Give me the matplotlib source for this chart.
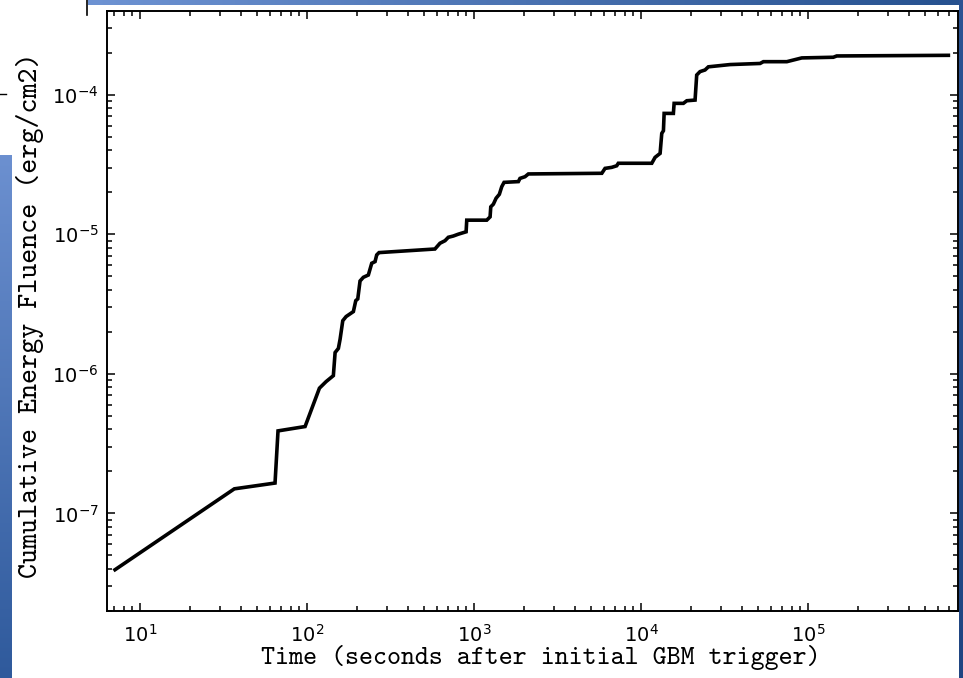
"""Cumulative energy fluence vs time since the initial GBM trigger."""
import matplotlib
matplotlib.use("Agg")
import matplotlib.pyplot as plt
import numpy as np
from matplotlib.lines import Line2D

# Time after trigger (s) and cumulative fluence (erg/cm2) at each step of the curve
TIME_S = [
    7.08, 36.7, 64.3, 67.0, 97.3, 118.6, 130.0, 143.7, 147.2, 154.0,
    157.7, 163.6, 171.3, 189.4, 195.7, 201.2, 207.6, 217.3, 232.8, 243.9,
    255.3, 261.2, 269.7, 583.0, 625.0, 670.0, 701.0, 751.0, 805.0, 896.0,
    904.0, 1191.0, 1247.0, 1259.0, 1305.0, 1355.0, 1417.0, 1465.0, 1512.0, 1842.0,
    1884.0, 2019.0, 2114.0, 5820.0, 6085.0, 6670.0, 7147.0, 7305.0, 11590.0, 12130.0,
    13000.0, 13300.0, 13610.0, 13740.0, 15610.0, 15770.0, 17920.0, 18780.0, 21050.0, 21530.0,
    22540.0, 24150.0, 25290.0, 34120.0, 51600.0, 54000.0, 74600.0, 91700.0, 141600.0, 148400.0,
    691800.0,
]
FLUENCE = [
    3.95e-8, 1.50e-7, 1.65e-7, 3.90e-7, 4.19e-7, 7.89e-7, 8.79e-7, 9.70e-7, 1.42e-6, 1.52e-6,
    1.77e-6, 2.40e-6, 2.57e-6, 2.79e-6, 3.34e-6, 3.44e-6, 4.62e-6, 4.91e-6, 5.10e-6, 6.19e-6,
    6.36e-6, 7.10e-6, 7.38e-6, 7.83e-6, 8.61e-6, 8.98e-6, 9.50e-6, 9.70e-6, 1.00e-5, 1.04e-5,
    1.26e-5, 1.26e-5, 1.33e-5, 1.57e-5, 1.64e-5, 1.81e-5, 1.93e-5, 2.19e-5, 2.35e-5, 2.38e-5,
    2.51e-5, 2.58e-5, 2.70e-5, 2.73e-5, 2.96e-5, 3.01e-5, 3.09e-5, 3.22e-5, 3.22e-5, 3.55e-5,
    3.79e-5, 5.27e-5, 5.51e-5, 7.33e-5, 7.33e-5, 8.65e-5, 8.65e-5, 9.03e-5, 9.13e-5, 1.38e-4,
    1.46e-4, 1.50e-4, 1.58e-4, 1.64e-4, 1.67e-4, 1.72e-4, 1.72e-4, 1.83e-4, 1.85e-4, 1.89e-4,
    1.91e-4,
]

XLIM = (6.34, 7.9e5)
YLIM = (2.0e-8, 4.0e-4)

LABEL_FONT = "cmtt10"

# tick labels in a Helvetica-like face
plt.rcParams["mathtext.fontset"] = "custom"
plt.rcParams["mathtext.rm"] = "Liberation Sans"
plt.rcParams["mathtext.it"] = "Liberation Sans:italic"
plt.rcParams["mathtext.bf"] = "Liberation Sans:bold"


def add_gradient(fig, rect, c0, c1, horizontal=True):
    ax = fig.add_axes(rect)
    t = np.linspace(0, 1, 256)
    c0 = np.array(matplotlib.colors.to_rgb(c0))
    c1 = np.array(matplotlib.colors.to_rgb(c1))
    grad = c0[None, :] * (1 - t[:, None]) + c1[None, :] * t[:, None]
    img = grad[None, :, :] if horizontal else grad[:, None, :]
    ax.imshow(img, aspect="auto", interpolation="bilinear")
    ax.axis("off")
    return ax


def main():
    fig = plt.figure(figsize=(9.63, 6.78), dpi=100)
    W, H = 963.0, 678.0

    # slide furniture behind the plot
    add_gradient(fig, [88 / W, 1 - 5 / H, 875 / W, 5 / H], "#6e93d3", "#26518f")
    add_gradient(fig, [0, 0, 11 / W, (678 - 155) / H], "#6c90d0", "#2f5a9c",
                 horizontal=False)
    add_gradient(fig, [959 / W, 0, 4 / W, 1], "#2c5393", "#1f4582", horizontal=False)
    fig.add_artist(Line2D([86.5 / W, 86.5 / W], [1, 1 - 15 / H], color="black",
                          lw=1.2, transform=fig.transFigure))
    fig.add_artist(Line2D([0, 6 / W], [1 - 94 / H, 1 - 94 / H], color="black",
                          lw=1.0, transform=fig.transFigure))

    ax = fig.add_axes([107 / W, (678 - 611) / H, (958 - 107) / W, (611 - 10.5) / H])
    ax.plot(TIME_S, FLUENCE, color="black", lw=2.6, solid_joinstyle="miter")

    ax.set_xscale("log")
    ax.set_yscale("log")
    ax.set_xlim(*XLIM)
    ax.set_ylim(*YLIM)

    for s in ax.spines.values():
        s.set_linewidth(1.4)
    ax.tick_params(which="both", direction="in", top=True, right=True, width=1.1)
    ax.tick_params(which="major", length=6, labelsize=14, pad=6)
    ax.tick_params(which="minor", length=3.5)
    ax.tick_params(axis="x", which="major", pad=9)

    ax.set_xlabel("Time (seconds after initial GBM trigger)", family=LABEL_FONT,
                  fontsize=19.2, labelpad=0)
    ax.xaxis.label.set_x(0.51)
    ax.set_ylabel("Cumulative Energy Fluence (erg/cm2)", family=LABEL_FONT,
                  fontsize=20.6)
    ax.yaxis.set_label_coords(-0.074, 0.493)

    fig.savefig("out.png", dpi=100)


if __name__ == "__main__":
    main()
